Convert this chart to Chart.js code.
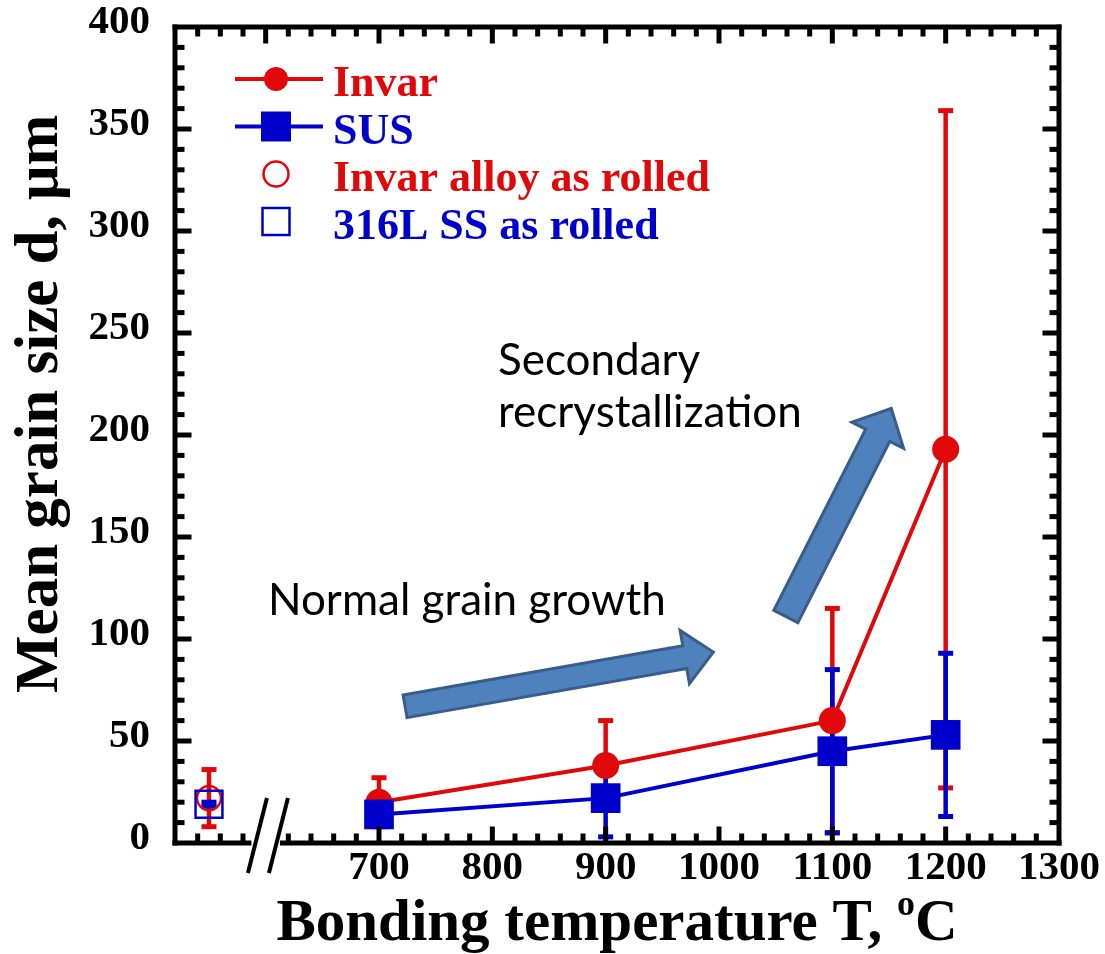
<!DOCTYPE html>
<html>
<head>
<meta charset="utf-8">
<script src="https://cdn.jsdelivr.net/npm/chart.js@4.4.0/dist/chart.umd.min.js"></script>
<style>
html, body { margin: 0; padding: 0; background: #fff; }
canvas { display: block; }
</style>
</head>
<body>
<canvas id="grain_chart" width="1105" height="954"></canvas>
<script>
// bonding temperatures and mean grain sizes (um) with error bars
const temps = [700, 900, 1100, 1200]
const invarSize = [20, 38, 60, 193]
const invarErr = [12, 22, 55, 166]
const susSize = [14, 22, 45, 53]
const susErr = [5, 19, 40, 40]

// as rolled material, plotted left of the axis break
const rolledTemp = [550]
const invarRolled = [22]
const invarRolledErr = [14]
const susRolled = [19]
const susRolledErr = [1]

const xTicks = [700, 800, 900, 1000, 1100, 1200, 1300]
const yTicks = [0, 50, 100, 150, 200, 250, 300, 350, 400]

const red = "#E00808"
const blue = "#0000CC"
const SERIF = '"Liberation Serif", "Times New Roman", serif'
const SANS = 'Lato, "Open Sans", sans-serif'

function pts(xs, ys) {
    return xs.map((x, i) => ({x: x, y: ys[i]}))
}

// filled block arrow like the office shape
function blockArrow(ctx, x1, y1, x2, y2, shaft, head, headLen) {
    let dx = x2 - x1, dy = y2 - y1, len = Math.hypot(dx, dy)
    let ux = dx / len, uy = dy / len, nx = -uy, ny = ux
    let bx = x2 - ux * headLen, by = y2 - uy * headLen
    let p = [
        [x1 + nx * shaft, y1 + ny * shaft],
        [bx + nx * shaft, by + ny * shaft],
        [bx + nx * head, by + ny * head],
        [x2, y2],
        [bx - nx * head, by - ny * head],
        [bx - nx * shaft, by - ny * shaft],
        [x1 - nx * shaft, y1 - ny * shaft]
    ]
    ctx.beginPath()
    p.forEach((q, i) => i ? ctx.lineTo(q[0], q[1]) : ctx.moveTo(q[0], q[1]))
    ctx.closePath()
    ctx.fillStyle = "#4F81BD"
    ctx.fill()
    ctx.lineWidth = 3
    ctx.lineJoin = "miter"
    ctx.strokeStyle = "#385D8A"
    ctx.stroke()
}

function errorBars(chart, xs, ys, errs, color) {
    let ctx = chart.ctx, sx = chart.scales.x, sy = chart.scales.y
    ctx.save()
    ctx.strokeStyle = color
    ctx.fillStyle = color
    ctx.lineWidth = 4.5
    xs.forEach((t, i) => {
        let px = sx.getPixelForValue(t)
        let top = sy.getPixelForValue(ys[i] + errs[i])
        let bot = sy.getPixelForValue(ys[i] - errs[i])
        ctx.beginPath()
        ctx.moveTo(px, top)
        ctx.lineTo(px, bot)
        ctx.stroke()
        ctx.fillRect(px - 7.5, top - 2.5, 15, 5)
        ctx.fillRect(px - 7.5, bot - 2.5, 15, 5)
    })
    ctx.restore()
}

function marker(ctx, kind, x, y, color, filled) {
    ctx.beginPath()
    if (kind == "circle") {
        ctx.arc(x, y, filled ? 12 : 12.5, 0, Math.PI * 2)
    } else {
        let h = filled ? 15 : 13.5
        ctx.rect(x - h, y - h, 2 * h, 2 * h)
    }
    if (filled) {
        ctx.fillStyle = color
        ctx.fill()
    } else {
        ctx.lineWidth = 2.5
        ctx.strokeStyle = color
        ctx.stroke()
    }
}

const legendRows = [
    {label: "Invar", color: red, kind: "circle", filled: true},
    {label: "SUS", color: blue, kind: "rect", filled: true},
    {label: "Invar alloy as rolled", color: red, kind: "circle", filled: false},
    {label: "316L SS as rolled", color: blue, kind: "rect", filled: false}
]

const decorPlugin = {
    id: "decor",
    beforeDatasetsDraw(chart) {
        errorBars(chart, temps, invarSize, invarErr, red)
        errorBars(chart, rolledTemp, invarRolled, invarRolledErr, red)
        errorBars(chart, temps, susSize, susErr, blue)
        errorBars(chart, rolledTemp, susRolled, susRolledErr, blue)
    },
    afterDraw(chart) {
        let ctx = chart.ctx, sx = chart.scales.x, sy = chart.scales.y
        let a = chart.chartArea
        let L = a.left, R = a.right, T = a.top, B = a.bottom
        ctx.save()

        // arrows, in data coordinates
        blockArrow(ctx, sx.getPixelForValue(723), sy.getPixelForValue(67),
            sx.getPixelForValue(995), sy.getPixelForValue(93.6), 11.5, 27, 29)
        blockArrow(ctx, sx.getPixelForValue(1059), sy.getPixelForValue(111),
            sx.getPixelForValue(1152), sy.getPixelForValue(213), 13.5, 29, 30)

        // annotation text
        ctx.fillStyle = "#000"
        ctx.textAlign = "left"
        ctx.textBaseline = "alphabetic"
        ctx.font = "44px " + SANS
        ctx.fillText("Normal grain growth", 268, 615)
        ctx.fillText("Secondary", 498, 375)
        ctx.fillText("recrystallization", 498, 427)

        // frame
        let brk = sx.getPixelForValue(602)
        ctx.fillStyle = "#000"
        ctx.fillRect(L - 2.5, T - 2.5, 5, B - T + 5)
        ctx.fillRect(R - 2.5, T - 2.5, 5, B - T + 5)
        ctx.fillRect(L - 2.5, T - 2.5, R - L + 5, 5)
        ctx.fillRect(L - 2.5, B - 2.5, brk - 14 - L, 5)
        ctx.fillRect(brk + 12, B - 2.5, R - brk - 9.5, 5)

        // inward ticks on all four sides
        for (let v = 540; v < 1300; v += 20) {
            let px = sx.getPixelForValue(v)
            let len = v % 100 == 0 ? 14 : 7
            ctx.fillRect(px - 2.5, T, 5, len + 2.5)
            if (Math.abs(px - brk) > 16) ctx.fillRect(px - 2.5, B - 2.5 - len, 5, len + 2.5)
        }
        for (let v = 10; v < 400; v += 10) {
            let py = sy.getPixelForValue(v)
            let len = v % 50 == 0 ? 14 : 7
            ctx.fillRect(L, py - 2.5, len + 2.5, 5)
            ctx.fillRect(R - 2.5 - len, py - 2.5, len + 2.5, 5)
        }

        // axis break marks
        ctx.lineWidth = 4
        ctx.strokeStyle = "#000"
        ctx.beginPath()
        ctx.moveTo(brk - 1, B - 45)
        ctx.lineTo(brk - 20, B + 30)
        ctx.moveTo(brk + 20, B - 45)
        ctx.lineTo(brk + 1, B + 30)
        ctx.stroke()

        // legend
        legendRows.forEach((row, i) => {
            let y = T + 52 + i * 47.5
            if (row.filled) {
                ctx.lineWidth = 4
                ctx.strokeStyle = row.color
                ctx.beginPath()
                ctx.moveTo(L + 60, y)
                ctx.lineTo(L + 148, y)
                ctx.stroke()
            }
            marker(ctx, row.kind, L + 101, y, row.color, row.filled)
            ctx.fillStyle = row.color
            ctx.font = "bold 44px " + SERIF
            ctx.textAlign = "left"
            ctx.fillText(row.label, L + 158, y + 17)
        })

        // axis titles
        ctx.fillStyle = "#000"
        ctx.save()
        ctx.translate(57, 693)
        ctx.rotate(-Math.PI / 2)
        ctx.font = "bold 61px " + SERIF
        ctx.textAlign = "left"
        ctx.fillText("Mean grain size d, \u03bcm", 0, 0)
        ctx.restore()

        let main = "Bonding temperature T, "
        ctx.font = "bold 59px " + SERIF
        let w1 = ctx.measureText(main).width
        let w3 = ctx.measureText("C").width
        ctx.font = "bold 36px " + SERIF
        let w2 = ctx.measureText("o").width
        let x0 = (L + R) / 2 - (w1 + w2 + w3) / 2
        ctx.textAlign = "left"
        ctx.font = "bold 59px " + SERIF
        ctx.fillText(main, x0, 940)
        ctx.fillText("C", x0 + w1 + w2, 940)
        ctx.font = "bold 36px " + SERIF
        ctx.fillText("o", x0 + w1, 915)

        ctx.restore()
    }
}

new Chart("grain_chart", {
    type: "line",
    data: {
        datasets: [{
            label: "Invar",
            data: pts(temps, invarSize),
            borderColor: red,
            backgroundColor: red,
            borderWidth: 4,
            pointStyle: "circle",
            pointRadius: 13.5,
            pointBorderWidth: 0,
            pointBackgroundColor: red,
            order: 2
        }, {
            label: "SUS",
            data: pts(temps, susSize),
            borderColor: blue,
            backgroundColor: blue,
            borderWidth: 4,
            pointStyle: "rect",
            pointRadius: 21,
            pointBorderWidth: 0,
            pointBackgroundColor: blue,
            order: 1
        }, {
            label: "Invar alloy as rolled",
            data: pts(rolledTemp, invarRolled),
            showLine: false,
            pointStyle: "circle",
            pointRadius: 12,
            pointBorderWidth: 2.5,
            pointBorderColor: red,
            pointBackgroundColor: "rgba(0,0,0,0)",
            order: 4
        }, {
            label: "316L SS as rolled",
            data: pts(rolledTemp, susRolled),
            showLine: false,
            pointStyle: "rect",
            pointRadius: 19,
            pointBorderWidth: 2.5,
            pointBorderColor: blue,
            pointBackgroundColor: "rgba(0,0,0,0)",
            order: 3
        }]
    },
    options: {
        responsive: false,
        animation: false,
        layout: {padding: {left: 0, top: 27, right: 46, bottom: 0}},
        plugins: {
            legend: {display: false},
            tooltip: {enabled: false}
        },
        scales: {
            x: {
                type: "linear",
                min: 520,
                max: 1300,
                afterBuildTicks: s => { s.ticks = xTicks.map(v => ({value: v})) },
                afterFit: s => {
                    s.height = 111
                    s.paddingLeft = 0
                    s.paddingRight = 0
                },
                grid: {display: false, drawTicks: false},
                border: {display: false},
                ticks: {
                    color: "#000",
                    padding: 1,
                    maxRotation: 0,
                    autoSkip: false,
                    font: {family: SERIF, size: 41, weight: "bold"},
                    callback: v => String(v)
                }
            },
            y: {
                min: 0,
                max: 400,
                afterBuildTicks: s => { s.ticks = yTicks.map(v => ({value: v})) },
                afterFit: s => {
                    s.width = 175
                    s.paddingTop = 0
                    s.paddingBottom = 0
                },
                grid: {display: false, drawTicks: false},
                border: {display: false},
                ticks: {
                    color: "#000",
                    padding: 25,
                    labelOffset: -5,
                    font: {family: SERIF, size: 41, weight: "bold"},
                    callback: v => String(v)
                }
            }
        }
    },
    plugins: [decorPlugin]
})
</script>
</body>
</html>
